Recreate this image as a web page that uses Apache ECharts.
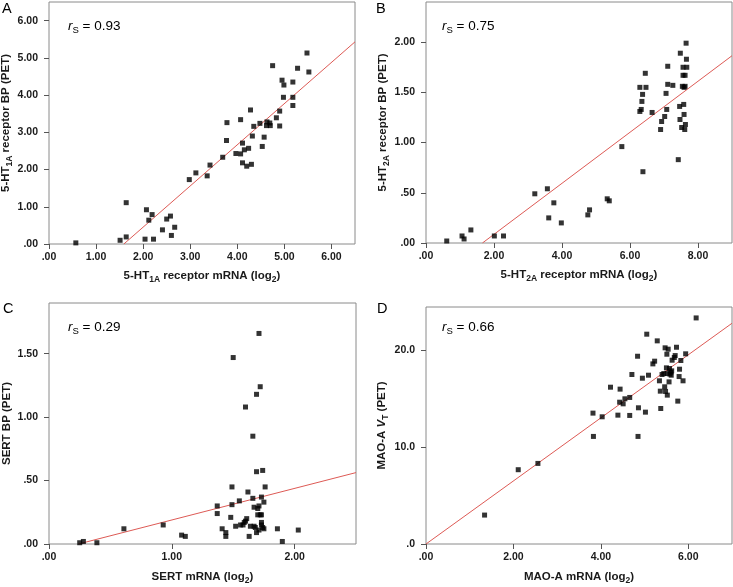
<!DOCTYPE html>
<html><head><meta charset="utf-8">
<script src="https://cdn.jsdelivr.net/npm/echarts@6/dist/echarts.min.js"></script>
<style>html,body{margin:0;padding:0;background:#fff}#c{width:733px;height:587px}</style>
</head><body><div id="c"></div>
<script>
// Panel A: 5-HT1A
const pointsA = [[0.57,0.03],[1.51,0.10],[1.64,0.19],[1.64,1.11],[2.04,0.13],[2.07,0.92],[2.12,0.64],[2.19,0.79],[2.22,0.13],[2.41,0.38],[2.50,0.67],[2.58,0.75],[2.60,0.23],[2.67,0.45],[2.98,1.73],[3.12,1.91],[3.36,1.83],[3.42,2.12],[3.69,2.33],[3.77,2.78],[3.78,3.26],[3.97,2.43],[4.07,3.34],[4.07,2.42],[4.11,2.71],[4.11,2.18],[4.15,2.53],[4.20,2.09],[4.24,2.57],[4.28,3.60],[4.30,2.14],[4.32,2.90],[4.35,3.16],[4.48,3.24],[4.53,2.62],[4.57,2.87],[4.62,3.18],[4.63,3.28],[4.69,3.25],[4.70,3.18],[4.75,4.79],[4.83,3.39],[4.90,3.17],[4.90,3.57],[4.95,4.40],[4.99,4.27],[4.98,3.94],[5.18,4.35],[5.18,3.94],[5.18,3.72],[5.28,4.72],[5.48,5.13],[5.52,4.62]];
const fitA = [[1.59,0],[6.5,5.43]];
const xTicksA = [0,1,2,3,4,5,6];
const yTicksA = [0,1,2,3,4,5,6];

// Panel B: 5-HT2A
const pointsB = [[0.61,0.02],[1.06,0.07],[1.12,0.04],[1.32,0.13],[2.01,0.07],[2.28,0.07],[3.20,0.49],[3.57,0.54],[3.61,0.25],[3.76,0.40],[3.98,0.20],[4.76,0.28],[4.81,0.33],[5.33,0.44],[5.39,0.42],[5.76,0.96],[6.29,1.55],[6.29,1.31],[6.33,1.33],[6.35,1.41],[6.37,1.48],[6.38,0.71],[6.45,1.69],[6.47,1.55],[6.65,1.30],[6.90,1.13],[6.93,1.21],[7.02,1.26],[7.06,1.49],[7.08,1.33],[7.11,1.76],[7.11,1.58],[7.26,1.57],[7.42,0.83],[7.46,1.36],[7.47,1.23],[7.48,1.89],[7.52,1.15],[7.54,1.56],[7.56,1.75],[7.56,1.67],[7.58,1.38],[7.59,1.28],[7.59,1.55],[7.61,1.13],[7.62,1.67],[7.62,1.56],[7.63,1.18],[7.65,1.99],[7.66,1.83],[7.67,1.75]];
const fitB = [[1.66,0],[9,1.865]];
const xTicksB = [0,2,4,6,8];
const yTicksB = [0,0.5,1,1.5,2];

// Panel C: SERT
const pointsC = [[0.25,0.01],[0.28,0.02],[0.39,0.01],[0.61,0.12],[0.93,0.15],[1.08,0.07],[1.11,0.06],[1.37,0.30],[1.37,0.24],[1.41,0.12],[1.44,0.09],[1.44,0.06],[1.49,0.45],[1.48,0.21],[1.49,0.31],[1.50,1.47],[1.52,0.14],[1.55,0.34],[1.56,0.15],[1.58,0.15],[1.59,0.17],[1.60,1.08],[1.60,0.18],[1.61,0.20],[1.62,0.41],[1.63,0.06],[1.64,0.14],[1.66,0.85],[1.66,0.36],[1.67,0.14],[1.67,0.29],[1.68,0.13],[1.69,0.09],[1.69,1.18],[1.69,0.57],[1.70,0.28],[1.70,0.23],[1.71,1.66],[1.71,0.11],[1.71,0.30],[1.72,1.24],[1.72,0.23],[1.73,0.23],[1.73,0.15],[1.73,0.37],[1.73,0.17],[1.74,0.58],[1.74,0.13],[1.75,0.33],[1.75,0.12],[1.76,0.45],[1.86,0.12],[1.90,0.02],[2.03,0.11]];
const fitC = [[0.24,0],[2.5,0.563]];
const xTicksC = [0,1,2];
const yTicksC = [0,0.5,1,1.5];

// Panel D: MAO-A
const pointsD = [[1.34,2.99],[2.11,7.68],[2.56,8.33],[3.82,13.53],[3.83,11.12],[4.03,13.15],[4.22,16.21],[4.39,13.32],[4.43,14.66],[4.44,16.01],[4.51,14.49],[4.55,15.01],[4.66,15.15],[4.66,13.29],[4.71,17.52],[4.84,19.41],[4.86,14.08],[4.85,11.12],[4.95,17.14],[5.02,13.63],[5.05,21.69],[5.09,17.45],[5.19,18.62],[5.23,18.90],[5.29,21.0],[5.34,16.87],[5.36,15.80],[5.37,14.01],[5.40,17.52],[5.44,17.62],[5.46,16.25],[5.47,20.28],[5.48,15.77],[5.51,19.62],[5.50,18.21],[5.52,15.39],[5.54,20.14],[5.56,16.76],[5.57,18.14],[5.60,17.76],[5.62,17.90],[5.63,19.0],[5.68,19.28],[5.70,19.48],[5.73,20.34],[5.76,14.77],[5.79,17.31],[5.80,18.07],[5.83,18.97],[5.88,16.87],[5.94,19.66],[6.18,23.37],[5.52,17.62],[5.58,17.56],[5.61,17.45]];
const fitD = [[0,0],[7,22.82]];
const xTicksD = [0,2,4,6];
const yTicksD = [0,10,20];

const FONT = '"Liberation Sans", Arial, Helvetica, sans-serif';
const TXT = '#1a1a1a';
function fmt(d){ return function(v){ let s = Number(v).toFixed(d); if (s.indexOf('0.') === 0) s = s.slice(1); return s; }; }
const NS = 11.5;
const nameRich = {
  b: {fontFamily: FONT, fontWeight: 'bold', fontSize: NS, color: TXT, lineHeight: 16},
  i: {fontFamily: FONT, fontWeight: 'bold', fontStyle: 'italic', fontSize: NS, color: TXT, lineHeight: 16},
  s: {fontFamily: FONT, fontWeight: 'bold', fontSize: 8.5, color: TXT, lineHeight: 8, verticalAlign: 'bottom'}
};

const grids = [
  {left: 49, top: 2, width: 306, height: 242},
  {left: 426, top: 2, width: 306, height: 241},
  {left: 49, top: 303, width: 307, height: 241},
  {left: 426, top: 307, width: 306, height: 237}
];

function axis(gi, max, ticks, dec, name, gap, isY) {
  return {
    type: 'value', gridIndex: gi, min: 0, max: max,
    axisLine: {show: false}, splitLine: {show: false},
    axisTick: {show: true, inside: false, length: 5, lineStyle: {color: '#555', width: 1}, customValues: ticks},
    axisLabel: {customValues: ticks, formatter: fmt(dec), fontFamily: FONT, fontWeight: 'bold', fontSize: 10.5, color: TXT, margin: isY ? 11 : 8},
    name: name, nameLocation: 'middle', nameGap: gap,
    nameTextStyle: {fontFamily: FONT, fontWeight: 'bold', fontSize: NS, color: TXT, rich: nameRich}
  };
}

const xAxes = [
  axis(0, 6.5, xTicksA, 2, '{b|5-HT}{s|1A}{b| receptor mRNA (log}{s|2}{b|)}', 24, false),
  axis(1, 9, xTicksB, 2, '{b|5-HT}{s|2A}{b| receptor mRNA (log}{s|2}{b|)}', 24, false),
  axis(2, 2.5, xTicksC, 2, '{b|SERT mRNA (log}{s|2}{b|)}', 25, false),
  axis(3, 7, xTicksD, 2, '{b|MAO-A mRNA (log}{s|2}{b|)}', 25, false)
];
const yAxes = [
  axis(0, 6.5, yTicksA, 2, '{b|5-HT}{s|1A}{b| receptor BP (PET)}', 33, true),
  axis(1, 2.4, yTicksB, 2, '{b|5-HT}{s|2A}{b| receptor BP (PET)}', 35, true),
  axis(2, 1.9, yTicksC, 2, '{b|SERT BP (PET)}', 34, true),
  axis(3, 24.5, yTicksD, 1, '{b|MAO-A }{i|V}{s|T}{b| (PET)}', 36, true)
];

const pts = [pointsA, pointsB, pointsC, pointsD];
const fits = [fitA, fitB, fitC, fitD];
const series = [];
for (let i = 0; i < 4; i++) {
  series.push({type: 'line', xAxisIndex: i, yAxisIndex: i, data: fits[i], symbol: 'none', silent: true,
    lineStyle: {color: '#dd5a55', width: 1}, z: 1, animation: false});
  series.push({type: 'scatter', xAxisIndex: i, yAxisIndex: i, data: pts[i], symbol: 'rect', symbolSize: 5,
    itemStyle: {color: '#000'}, z: 2, animation: false});
}

const RS = 13.5;
const rsRich = {
  i: {fontFamily: FONT, fontStyle: 'italic', fontSize: RS, fill: '#000', lineHeight: 18},
  s: {fontFamily: FONT, fontSize: 9.5, fill: '#000', lineHeight: 10, verticalAlign: 'bottom'},
  n: {fontFamily: FONT, fontSize: RS, fill: '#000', lineHeight: 18}
};
function rs(x, y, val) {
  return {type: 'text', left: x, top: y, z: 10, style: {text: '{i|r}{s|S}{n| = ' + val + '}', rich: rsRich}};
}
function letter(x, y, t) {
  return {type: 'text', left: x, top: y, z: 10, style: {text: t, fontFamily: FONT, fontSize: 14.5, fill: '#000'}};
}

const chart = echarts.init(document.getElementById('c'), null, {renderer: 'canvas'});
chart.setOption({
  animation: false,
  backgroundColor: '#fff',
  grid: grids.map(g => Object.assign({show: true, borderColor: '#8a8a8a', borderWidth: 1, backgroundColor: 'transparent', containLabel: false, outerBoundsMode: 'none'}, g)),
  xAxis: xAxes,
  yAxis: yAxes,
  series: series,
  graphic: [
    letter(2, 1, 'A'), letter(376, 1, 'B'), letter(3, 301, 'C'), letter(377, 301, 'D'),
    rs(68, 19, '0.93'), rs(442, 19, '0.75'), rs(68, 320, '0.29'), rs(442, 320, '0.66')
  ]
});
</script></body></html>
